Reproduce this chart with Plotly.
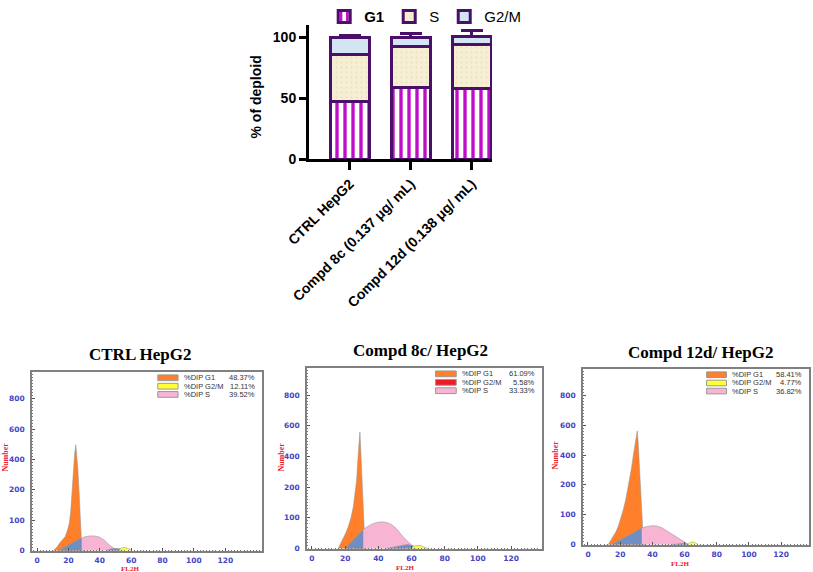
import plotly.graph_objects as go

# ---------------- top stacked bar chart data ----------------
groups = ["CTRL HepG2", "Compd 8c (0.137 μg/ mL)", "Compd 12d (0.138 μg/ mL)"]
g1_mean = [47.5, 59.0, 57.5]
g1_err = [1.8, 4.0, 3.3]
s_mean = [38.0, 33.0, 36.7]
s_err = [3.5, 3.5, 4.0]
g2m_mean = [14.0, 7.5, 6.6]
g2m_err = [2.0, 3.5, 4.2]

# ---------------- flow histograms data (counts vs FL2H) ----------------
panel_titles = ["CTRL HepG2", "Compd 8c/ HepG2", "Compd 12d/ HepG2"]
legend_names = ["%DIP G1", "%DIP G2/M", "%DIP S"]
legend_vals = [["48.37%", "12.11%", "39.52%"],
               ["61.09%", "5.58%", "33.33%"],
               ["58.41%", "4.77%", "36.82%"]]

# CTRL
c_g1_x = [10.4, 12.5, 14.7, 16.5, 17.9, 19.5, 20.6, 21.5, 22.1, 23.2, 24.0, 24.7, 25.3, 26.0, 27.0, 27.9, 28.6]
c_g1_y = [0, 10, 26, 36, 45, 68, 90, 130, 174, 368, 440, 497, 430, 342, 174, 45, 0]
c_b_x = [13.6, 17, 20, 23, 26, 28.5, 30.6]
c_b_y = [0, 10, 18, 27, 35, 41, 0]
c_s_x = [28.5, 31, 34, 37, 40, 43, 46, 48, 50, 52]
c_s_y = [41, 46, 48, 48, 44, 34, 18, 10, 4, 0]
c_bh_x = [44, 47, 50, 53, 55]
c_bh_y = [0, 5, 7, 6, 0]
c_m_x = [52, 54, 56, 58, 60.5]
c_m_y = [0, 9, 10, 7, 0]

# Compd 8c
a_g1_x = [15.8, 17.5, 18.9, 20.5, 21.9, 23.5, 24.9, 26.0, 26.9, 27.9, 28.9, 29.4, 29.9, 30.4, 30.9, 31.5, 32.5]
a_g1_y = [0, 18, 35, 52, 72, 100, 136, 185, 245, 419, 560, 440, 310, 210, 136, 61, 0]
a_b_x = [19.9, 23, 26, 29, 30.9, 32.5]
a_b_y = [0, 17, 34, 50, 61, 0]
a_s_x = [30.9, 33, 36, 39, 42, 45, 48, 51, 54, 57, 60, 63]
a_s_y = [61, 70, 79, 85, 87, 85, 78, 64, 44, 26, 12, 0]
a_bh_x = [45, 50, 55, 58, 61, 63]
a_bh_y = [0, 6, 11, 13, 8, 0]
a_m_x = [59, 62, 65, 68, 70]
a_m_y = [0, 9, 10, 5, 0]

# Compd 12d
d_g1_x = [12.6, 14, 15.7, 17.3, 18.8, 20.3, 21.9, 23.5, 25.0, 26.0, 27.1, 28.2, 29.2, 30.0, 30.6, 31.2, 31.7, 32.2, 32.7, 33.2, 33.7, 34.5]
d_g1_y = [0, 12, 27, 42, 61, 85, 116, 152, 192, 240, 317, 400, 475, 530, 562, 480, 363, 250, 160, 105, 61, 0]
d_b_x = [14.7, 18, 22, 26, 30, 33.4, 35.4]
d_b_y = [0, 10, 22, 34, 46, 55, 0]
d_s_x = [33.4, 36, 39.6, 43, 46, 49, 52, 55, 58, 60.5, 62.5]
d_s_y = [55, 60, 63, 62, 56, 46, 35, 24, 14, 6, 0]
d_bh_x = [52, 56, 60, 63]
d_bh_y = [0, 3, 4, 0]
d_m_x = [62, 64, 66, 68.5]
d_m_y = [0, 9, 8, 0]

y_ticks = [0, 100, 200, 400, 600, 800]
x_ticks = [0, 20, 40, 60, 80, 100, 120]

PURPLE = "#4a0f68"
ORANGE = "#ff7f2a"
BLUE = "#6f8fc4"
PINK = "#f7b4d3"
YELLOW = "#ffff33"
RED = "#ee1c25"
TICKBLUE = "#4444c4"


def disp(c):
    # the cytometer's count axis: linear to 200, then half-scale above
    return c if c <= 200 else 200 + (c - 200) / 2.0


fig = go.Figure()

# ---- bars ----
bar_common = dict(x=groups, xaxis="x", yaxis="y", width=0.64,
                  marker_line=dict(color=PURPLE, width=3))
fig.add_trace(go.Bar(name="<b>G1</b>", y=g1_mean,
                     error_y=dict(type="data", array=g1_err, arrayminus=[0] * 3, symmetric=False,
                                  color=PURPLE, thickness=3, width=7),
                     marker=dict(color="white", pattern=dict(shape="|", fgcolor="#c00cc8", bgcolor="white",
                                                             size=8, solidity=0.42, fgopacity=1)),
                     **bar_common))
fig.add_trace(go.Bar(name="S", y=s_mean,
                     error_y=dict(type="data", array=s_err, arrayminus=[0] * 3, symmetric=False,
                                  color=PURPLE, thickness=3, width=6),
                     marker=dict(color="#f6efd6", pattern=dict(shape=".", fgcolor="#ebdfb0", bgcolor="#f6efd6",
                                                               size=5, solidity=0.1)),
                     **bar_common))
fig.add_trace(go.Bar(name="G2/M", y=g2m_mean,
                     error_y=dict(type="data", array=g2m_err, arrayminus=[0] * 3, symmetric=False,
                                  color=PURPLE, thickness=3, width=11),
                     marker=dict(color="#d3e5f3"),
                     **bar_common))

# ---- histograms ----
panels = [
    (c_g1_x, c_g1_y, c_b_x, c_b_y, c_s_x, c_s_y, c_bh_x, c_bh_y, c_m_x, c_m_y, YELLOW),
    (a_g1_x, a_g1_y, a_b_x, a_b_y, a_s_x, a_s_y, a_bh_x, a_bh_y, a_m_x, a_m_y, YELLOW),
    (d_g1_x, d_g1_y, d_b_x, d_b_y, d_s_x, d_s_y, d_bh_x, d_bh_y, d_m_x, d_m_y, YELLOW),
]
for i, p in enumerate(panels):
    xa, ya = "x%d" % (i + 2), "y%d" % (i + 2)
    comps = [(p[0], p[1], ORANGE), (p[2], p[3], BLUE), (p[4], p[5], PINK),
             (p[6], p[7], BLUE), (p[8], p[9], p[10])]
    for xs, cs, col in comps:
        fig.add_trace(go.Scatter(x=xs, y=[disp(c) for c in cs], mode="lines", fill="tozeroy",
                                 fillcolor=col, line=dict(color="rgba(150,150,150,0.7)", width=0.8),
                                 xaxis=xa, yaxis=ya, showlegend=False, hoverinfo="skip"))

W, H = 813, 572
def px_x(v):
    return v / W
def px_y(v):
    return 1 - v / H

layout = dict(
    template="none",
    width=W, height=H, margin=dict(l=0, r=0, t=0, b=0, pad=0),
    paper_bgcolor="white", plot_bgcolor="white",
    barmode="stack", bargap=0.36,
    showlegend=True,
    legend=dict(orientation="h", x=0.523, xanchor="center", y=1.005, yanchor="top",
                font=dict(family="Arial, Liberation Sans", size=15, color="black"),
                traceorder="normal", itemwidth=30, bgcolor="rgba(0,0,0,0)"),
    font=dict(family="Arial, Liberation Sans", color="black"),
    xaxis=dict(domain=[px_x(309), px_x(492)], range=[-0.67, 2.33], type="category", automargin=False,
               showline=True, linecolor="black", linewidth=3,
               ticks="outside", ticklen=8, tickwidth=3, tickcolor="black",
               tickangle=-45, tickfont=dict(size=14, family="Arial, Liberation Sans", color="black"),
               showgrid=False, anchor="y"),
    yaxis=dict(domain=[px_y(157), px_y(22)], range=[0, 110], automargin=False,
               showline=True, linecolor="black", linewidth=3,
               ticks="outside", ticklen=7, tickwidth=3, tickcolor="black",
               tickvals=[0, 50, 100], ticktext=["<b>0</b>", "<b>50</b>", "<b>100</b>"],
               tickfont=dict(size=14, family="Arial, Liberation Sans", color="black"),
               showgrid=False, zeroline=False, anchor="x"),
)
layout["xaxis"]["tickvals"] = groups
layout["xaxis"]["ticktext"] = ["<b>%s</b>" % g for g in groups]

frames = [((32, 262), (371, 551), (-3.2, 143.4)),
          ((307, 542), (367, 549), (-3.0, 138.6)),
          ((583, 809), (368, 545), (-3.1, 137.3))]
for i, ((xl, xr), (yt, yb), xr_rng) in enumerate(frames):
    n = i + 2
    layout["xaxis%d" % n] = dict(domain=[px_x(xl), px_x(xr)], range=list(xr_rng), anchor="y%d" % n,
                                 automargin=False,
                                 showline=True, mirror=True, linecolor="#808080", linewidth=1.5,
                                 ticks="inside", ticklen=3, tickcolor="#555", tickvals=x_ticks,
                                 ticklabelstandoff=1,
                                 tickfont=dict(family="DejaVu Sans", size=7.5, color=TICKBLUE, weight="bold"),
                                 minor=dict(tickmode="linear", tick0=0, dtick=2, ticks="inside", ticklen=1.5,
                                            tickcolor="#777"),
                                 showgrid=False, zeroline=False)
    layout["yaxis%d" % n] = dict(domain=[px_y(yb), px_y(yt)], range=[-2, 588], anchor="x%d" % n,
                                 automargin=False,
                                 showline=True, mirror=True, linecolor="#808080", linewidth=1.5,
                                 ticks="inside", ticklen=3, tickcolor="#555",
                                 tickvals=[disp(t) for t in y_ticks], ticktext=[str(t) for t in y_ticks],
                                 ticklabelstandoff=4,
                                 tickfont=dict(family="DejaVu Sans", size=7.5, color=TICKBLUE, weight="bold"),
                                 minor=dict(tickmode="linear", tick0=0, dtick=10, ticks="inside", ticklen=1.5,
                                            tickcolor="#777"),
                                 showgrid=False, zeroline=False)

annotations = []
shapes = []
annotations.append(dict(text="<b>% of deploid</b>", x=px_x(256), y=px_y(95), xref="paper", yref="paper",
                        xanchor="center", yanchor="middle",
                        textangle=-90, showarrow=False, font=dict(size=14, family="Arial, Liberation Sans")))

title_pos = [(140, 353), (420, 349), (700, 351)]
number_pos = [(6, 457), (282, 457), (556, 455)]
fl_pos = [(130, 569), (405, 568), (680, 564)]
swatch_cols = [[ORANGE, YELLOW, PINK], [ORANGE, RED, PINK], [ORANGE, YELLOW, PINK]]
row_y = [0.968, 0.921, 0.875]
for i in range(3):
    n = i + 2
    tx, ty = title_pos[i]
    annotations.append(dict(text="<b>%s</b>" % panel_titles[i], x=px_x(tx), y=px_y(ty), xref="paper",
                            yref="paper", showarrow=False, xanchor="center", yanchor="middle",
                            font=dict(family="Liberation Serif, Times New Roman", size=17, color="black")))
    nx, ny = number_pos[i]
    annotations.append(dict(text="<b>Number</b>", x=px_x(nx), y=px_y(ny), xref="paper", yref="paper",
                            xanchor="center", yanchor="middle",
                            textangle=-90, showarrow=False,
                            font=dict(family="Liberation Serif", size=8, color="#e8202a")))
    fx, fy = fl_pos[i]
    annotations.append(dict(text="<b>FL2H</b>", x=px_x(fx), y=px_y(fy), xref="paper", yref="paper",
                            xanchor="center", yanchor="middle",
                            showarrow=False, font=dict(family="Liberation Serif", size=7, color="#e8202a")))
    for r in range(3):
        shapes.append(dict(type="rect", xref="x%d domain" % n, yref="y%d domain" % n,
                           x0=0.547, x1=0.635, y0=row_y[r] - 0.016, y1=row_y[r] + 0.016,
                           fillcolor=swatch_cols[i][r], line=dict(color="#999", width=1)))
        annotations.append(dict(text=legend_names[r], xref="x%d domain" % n, yref="y%d domain" % n,
                                x=0.65, y=row_y[r], xanchor="left", yanchor="middle", showarrow=False,
                                font=dict(family="Liberation Sans", size=7.5, color="#333")))
        annotations.append(dict(text=legend_vals[i][r], xref="x%d domain" % n, yref="y%d domain" % n,
                                x=0.98, y=row_y[r], xanchor="right", yanchor="middle", showarrow=False,
                                font=dict(family="Liberation Sans", size=7.5, color="#333")))

layout["annotations"] = annotations
layout["shapes"] = shapes
fig.update_layout(**layout)
fig.write_html("out.html", config={"displayModeBar": False},
               post_script="document.body.style.margin='0';document.body.style.overflow='hidden';")
